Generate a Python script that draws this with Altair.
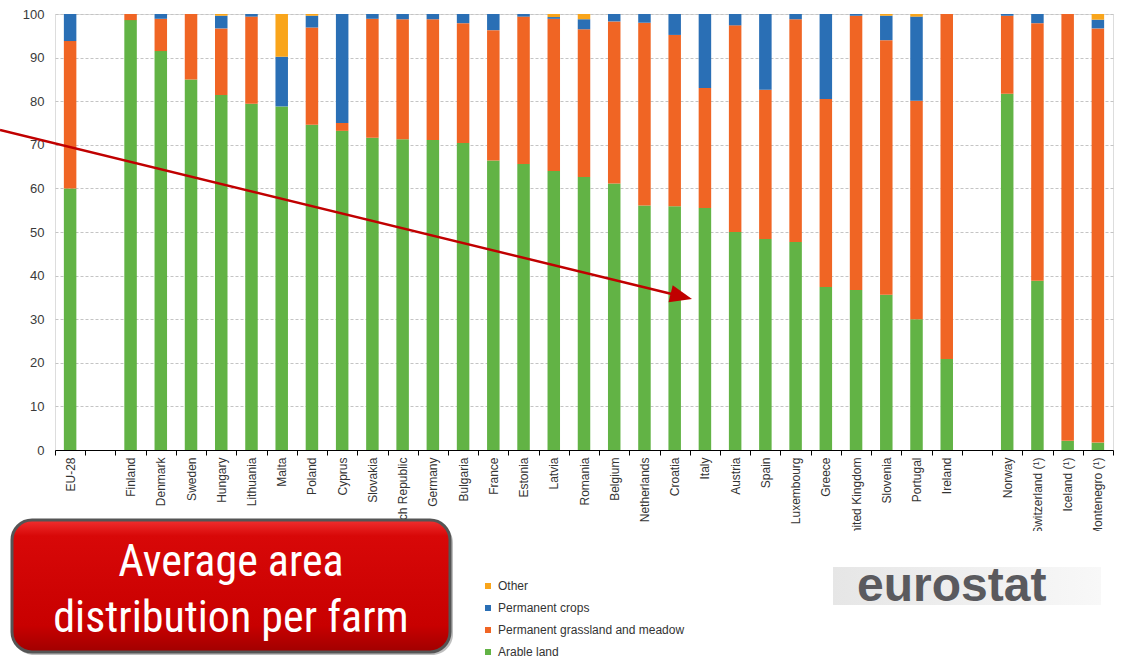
import altair as alt
import pandas as pd

countries = ["EU-28", " ", "Finland", "Denmark", "Sweden", "Hungary", "Lithuania", "Malta",
             "Poland", "Cyprus", "Slovakia", "Czech Republic", "Germany", "Bulgaria", "France",
             "Estonia", "Latvia", "Romania", "Belgium", "Netherlands", "Croatia", "Italy",
             "Austria", "Spain", "Luxembourg", "Greece", "United Kingdom", "Slovenia",
             "Portugal", "Ireland", "  ", "Norway", "Switzerland (¹)", "Iceland (¹)",
             "Montenegro (¹)"]

arable = [60.0, 0, 98.6, 91.5, 85.0, 81.4, 79.4, 78.8, 74.6, 73.2, 71.6, 71.3, 71.1, 70.4,
          66.4, 65.6, 64.0, 62.6, 61.1, 56.1, 55.9, 55.5, 50.0, 48.4, 47.7, 37.4, 36.7, 35.6,
          30.0, 20.9, 0, 81.7, 38.8, 2.1, 1.7]
grassland = [33.8, 0, 1.4, 7.4, 15.0, 15.3, 20.0, 0.0, 22.3, 1.8, 27.3, 27.5, 27.7, 27.5,
             29.9, 33.8, 34.9, 33.9, 37.2, 41.9, 39.3, 27.5, 47.4, 34.2, 51.1, 43.1, 62.9,
             58.4, 50.1, 79.1, 0, 17.9, 59.1, 97.9, 95.0]
crops = [6.2, 0, 0.0, 1.1, 0.0, 2.9, 0.6, 11.4, 2.7, 25.0, 1.1, 1.2, 1.2, 2.1, 3.7, 0.6, 0.4,
         2.3, 1.7, 2.0, 4.8, 17.0, 2.6, 17.4, 1.2, 19.5, 0.4, 5.6, 19.3, 0.0, 0, 0.4, 2.1,
         0.0, 2.0]
other = [0.0, 0, 0.0, 0.0, 0.0, 0.4, 0.0, 9.8, 0.4, 0.0, 0.0, 0.0, 0.0, 0.0, 0.0, 0.0, 0.7,
         1.2, 0.0, 0.0, 0.0, 0.0, 0.0, 0.0, 0.0, 0.0, 0.0, 0.4, 0.6, 0.0, 0, 0.0, 0.0, 0.0, 1.3]

series = ["Arable land", "Permanent grassland and meadow", "Permanent crops", "Other"]
legend_order = ["Other", "Permanent crops", "Permanent grassland and meadow", "Arable land"]
legend_colors = ["#F9A51B", "#2A6FB5", "#F06524", "#62B345"]
y_ticks = list(range(0, 101, 10))
title_lines = ["Average area", "distribution per farm"]
logo_text = "eurostat"

rows = []
for i, c in enumerate(countries):
    for k, (s, vals) in enumerate(zip(series, [arable, grassland, crops, other])):
        rows.append({"country": c, "series": s, "value": vals[i], "ord": k})
df = pd.DataFrame(rows)

W, H = 1058, 436
OX, OY = 55, 14  # plot origin in page pixels

bars = alt.Chart(df).mark_bar(size=12.5).encode(
    x=alt.X("country:N", sort=countries,
            scale=alt.Scale(domain=countries, paddingInner=0, paddingOuter=0),
            axis=alt.Axis(title=None, labelAngle=-90, labelFontSize=12, labelColor="#333333",
                          labelPadding=2, tickBand="extent", tickSize=5, tickColor="#000000",
                          domainColor="#000000", grid=False, labelOverlap=False)),
    y=alt.Y("value:Q", stack="zero",
            scale=alt.Scale(domain=[0, 100], nice=False),
            axis=alt.Axis(title=None, values=y_ticks, grid=True, gridDash=[3, 2],
                          gridColor="#c4c4c4", domain=False, ticks=False, labelFontSize=13,
                          labelColor="#3a3a3a", labelPadding=11)),
    color=alt.Color("series:N", scale=alt.Scale(domain=legend_order, range=legend_colors),
                    legend=alt.Legend(title=None, orient="none", legendX=427, legendY=566,
                                      symbolType="square", symbolSize=36, symbolStrokeWidth=0,
                                      labelFontSize=12, labelColor="#333333", rowPadding=10,
                                      labelOffset=4, padding=0, labelLimit=400)),
    order=alt.Order("ord:Q"),
)

one = pd.DataFrame({"k": [0]})

arrow_line = alt.Chart(one).mark_rule(color="#C00000", strokeWidth=2.5).encode(
    x=alt.value(0 - OX), y=alt.value(130 - OY),
    x2=alt.value(680 - OX), y2=alt.value(296 - OY))

arrow_head = alt.Chart(one).mark_point(
    shape="M 0 0 L -2 -0.8 L -2 0.8 Z", filled=True, color="#C00000", opacity=1,
    size=484, angle=13.7).encode(x=alt.value(692 - OX), y=alt.value(299 - OY))

mask = alt.Chart(one).mark_rect(color="white").encode(
    x=alt.value(0 - OX), x2=alt.value(1127 - OX),
    y=alt.value(531 - OY), y2=alt.value(570 - OY))

box_shadow = alt.Chart(one).mark_rect(color="#000000", opacity=0.25, cornerRadius=21).encode(
    x=alt.value(13 - OX), x2=alt.value(453 - OX),
    y=alt.value(522 - OY), y2=alt.value(655 - OY))

red_grad = alt.LinearGradient(
    gradient="linear", x1=0, y1=0, x2=0, y2=1,
    stops=[alt.GradientStop(offset=0, color="#f03030"),
           alt.GradientStop(offset=0.12, color="#d80808"),
           alt.GradientStop(offset=0.8, color="#c80000"),
           alt.GradientStop(offset=1, color="#a00000")])

box = alt.Chart(one).mark_rect(fill=red_grad, stroke="#555555", strokeWidth=3,
                               cornerRadius=20).encode(
    x=alt.value(12 - OX), x2=alt.value(450 - OX),
    y=alt.value(520 - OY), y2=alt.value(652 - OY))

title_font = "Liberation Sans Narrow, Arial Narrow, Roboto Condensed, Liberation Sans"
t1 = alt.Chart(one).mark_text(font=title_font, fontSize=44, color="white", align="center",
                              baseline="alphabetic").encode(
    x=alt.value(231 - OX), y=alt.value(576 - OY), text=alt.value(title_lines[0]))
t2 = alt.Chart(one).mark_text(font=title_font, fontSize=44, color="white", align="center",
                              baseline="alphabetic").encode(
    x=alt.value(231 - OX), y=alt.value(632 - OY), text=alt.value(title_lines[1]))

gray_grad = alt.LinearGradient(
    gradient="linear", x1=0, y1=0, x2=1, y2=0,
    stops=[alt.GradientStop(offset=0, color="#e6e6e6"),
           alt.GradientStop(offset=1, color="#f8f8f8")])
logo_box = alt.Chart(one).mark_rect(fill=gray_grad).encode(
    x=alt.value(833 - OX), x2=alt.value(1101 - OX),
    y=alt.value(567 - OY), y2=alt.value(605 - OY))
logo = alt.Chart(one).mark_text(font="Liberation Sans", fontWeight="bold", fontSize=48,
                                color="#5a5a5e", align="left", baseline="alphabetic").encode(
    x=alt.value(857 - OX), y=alt.value(601 - OY), text=alt.value(logo_text))

chart = alt.layer(bars, arrow_line, arrow_head, mask, box_shadow, box, t1, t2, logo_box,
                  logo).properties(
    width=W, height=H,
    padding={"left": OX, "top": OY, "right": 1127 - OX - W, "bottom": 663 - OY - H},
    autosize=alt.AutoSizeParams(type="none"),
).configure_view(stroke=None).configure(font="Liberation Sans")

chart.save("out.html", embed_options={"renderer": "svg", "actions": False})
